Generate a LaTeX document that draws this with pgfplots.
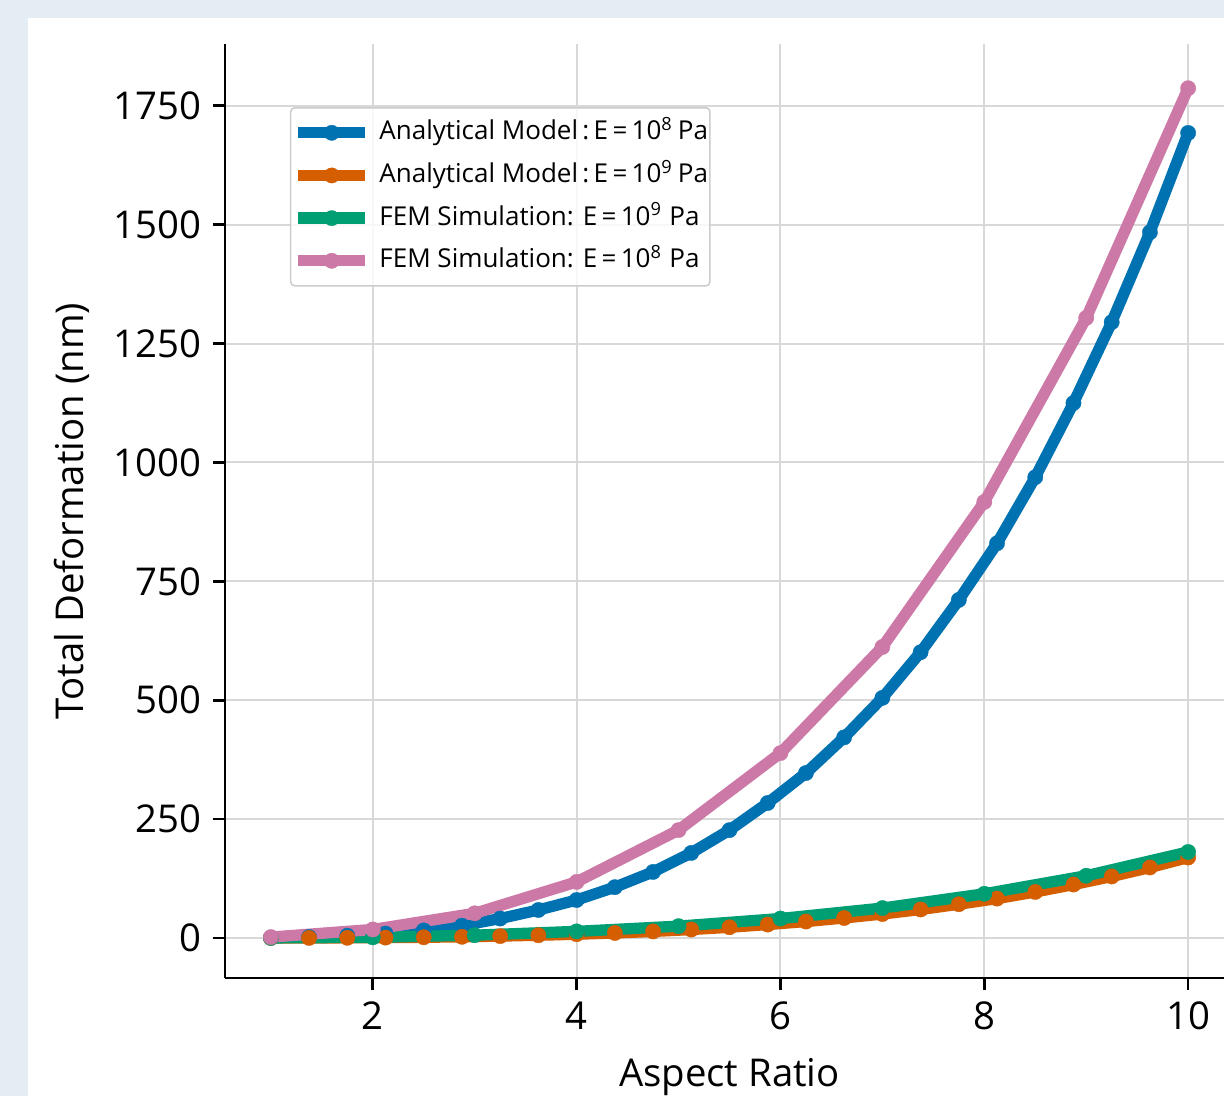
\documentclass[border=0pt]{standalone}
\usepackage{fontspec}
\setmainfont{Open Sans}
\usepackage{pgfplots}
\pgfplotsset{compat=1.18}

\definecolor{pageBg}{RGB}{229,237,244}
\definecolor{cBlue}{HTML}{0072B2}
\definecolor{cOrange}{HTML}{D55E00}
\definecolor{cGreen}{HTML}{009E73}
\definecolor{cPink}{HTML}{CC79A7}
\definecolor{gridGray}{RGB}{216,216,216}
\definecolor{legGray}{RGB}{204,204,204}

\pgfplotsset{
  curve/.style={#1, line width=3.4pt, line join=round,
    mark=*, mark size=2.3pt, mark options={solid, line width=0.1pt, fill=#1}},
}

\begin{document}
\begin{tikzpicture}
  % 1 px of the reference = 0.3pt
  \useasboundingbox (0,0) rectangle (367.2pt,328.8pt);
  \fill[pageBg] (0,0) rectangle (367.2pt,328.8pt);
  \fill[white] (8.4pt,0) rectangle (367.2pt,323.4pt);
  \clip (0,0) rectangle (367.2pt,328.8pt);
  \begin{axis}[
      at={(67.5pt,35.4pt)}, anchor=south west,
      scale only axis, width=302.7pt, height=280.2pt,
      xmin=0.55, xmax=10.45, ymin=-84, ymax=1880,
      xtick={2,4,6,8,10},
      ytick={0,250,500,750,1000,1250,1500,1750},
      axis x line*=bottom, axis y line*=left,
      axis line style={black, line width=0.8pt, -},
      tick align=outside,
      major tick length=3.6pt,
      tick style={black, line width=0.8pt},
      grid=major,
      grid style={gridGray, line width=0.6pt},
      /pgf/number format/assume math mode=true,
      /pgf/number format/1000 sep={},
      every tick label/.append style={font=\fontsize{11.5}{13.8}\selectfont},
      xlabel={Aspect Ratio},
      ylabel={Total Deformation (nm)},
      xlabel style={at={(axis description cs:0.5,-0.1167)}, anchor=base,
        font=\fontsize{11.5}{13.8}\selectfont},
      ylabel style={at={(axis description cs:-0.1407,0.5)}, anchor=base,
        font=\fontsize{11.5}{13.8}\selectfont},
      legend cell align=left,
      legend image code/.code={
        \draw[mark repeat=2, mark phase=2, fill opacity=1, draw opacity=1, #1]
          plot coordinates {(0pt,0pt) (10pt,0pt) (20pt,0pt)};
      },
      legend style={
        at={(0.0644,0.9325)}, anchor=north west,
        draw=legGray, line width=0.45pt, rounded corners=1.2pt,
        fill=white, fill opacity=0.8, text opacity=1,
        font=\fontsize{7.8}{9}\selectfont,
        inner xsep=0.6pt, inner ysep=3.6pt,
        row sep=5pt,
        nodes={inner sep=0pt, text height=6pt, text depth=1.8pt, anchor=west},
        /tikz/every odd column/.append style={column sep=2.6pt},
      },
      clip=false,
    ]

    % Analytical model, E = 1e8 Pa
    \addplot[curve=cBlue] coordinates {
      (1,0.8) (1.375,2.2) (1.75,4.9) (2.125,9.4) (2.5,16) (2.875,26)
      (3.25,41) (3.625,59) (4,80) (4.375,107) (4.75,139) (5.125,179)
      (5.5,227) (5.875,284) (6.25,347) (6.625,422) (7,505) (7.375,601)
      (7.75,711) (8.125,830) (8.5,969) (8.875,1125) (9.25,1295)
      (9.625,1484) (10,1693)
    };
    \addlegendentry{Analytical Model\,:\,E\,=\,10\textsuperscript{8}\,Pa}

    % Analytical model, E = 1e9 Pa
    \addplot[curve=cOrange] coordinates {
      (1,0.08) (1.375,0.22) (1.75,0.49) (2.125,0.94) (2.5,1.6) (2.875,2.6)
      (3.25,4.1) (3.625,5.9) (4,8.0) (4.375,10.7) (4.75,13.9) (5.125,17.9)
      (5.5,22.7) (5.875,28.4) (6.25,34.7) (6.625,42.2) (7,50.5) (7.375,60.1)
      (7.75,71.1) (8.125,83.0) (8.5,96.9) (8.875,112.5) (9.25,129.5)
      (9.625,148.4) (10,169.3)
    };
    \addlegendentry{Analytical Model\,:\,E\,=\,10\textsuperscript{9}\,Pa}

    % FEM, E = 1e9 Pa
    \addplot[curve=cGreen] coordinates {
      (1,0.3) (2,1.5) (3,6) (4,14) (5,25) (6,41) (7,63) (8,93) (9,131) (10,181)
    };
    \addlegendentry{FEM Simulation: E\,=\,10\textsuperscript{9} Pa}

    % FEM, E = 1e8 Pa
    \addplot[curve=cPink] coordinates {
      (1,2) (2,18) (3,52) (4,118) (5,227) (6,389) (7,612) (8,917) (9,1304) (10,1787)
    };
    \addlegendentry{FEM Simulation: E\,=\,10\textsuperscript{8} Pa}
  \end{axis}
\end{tikzpicture}
\end{document}
